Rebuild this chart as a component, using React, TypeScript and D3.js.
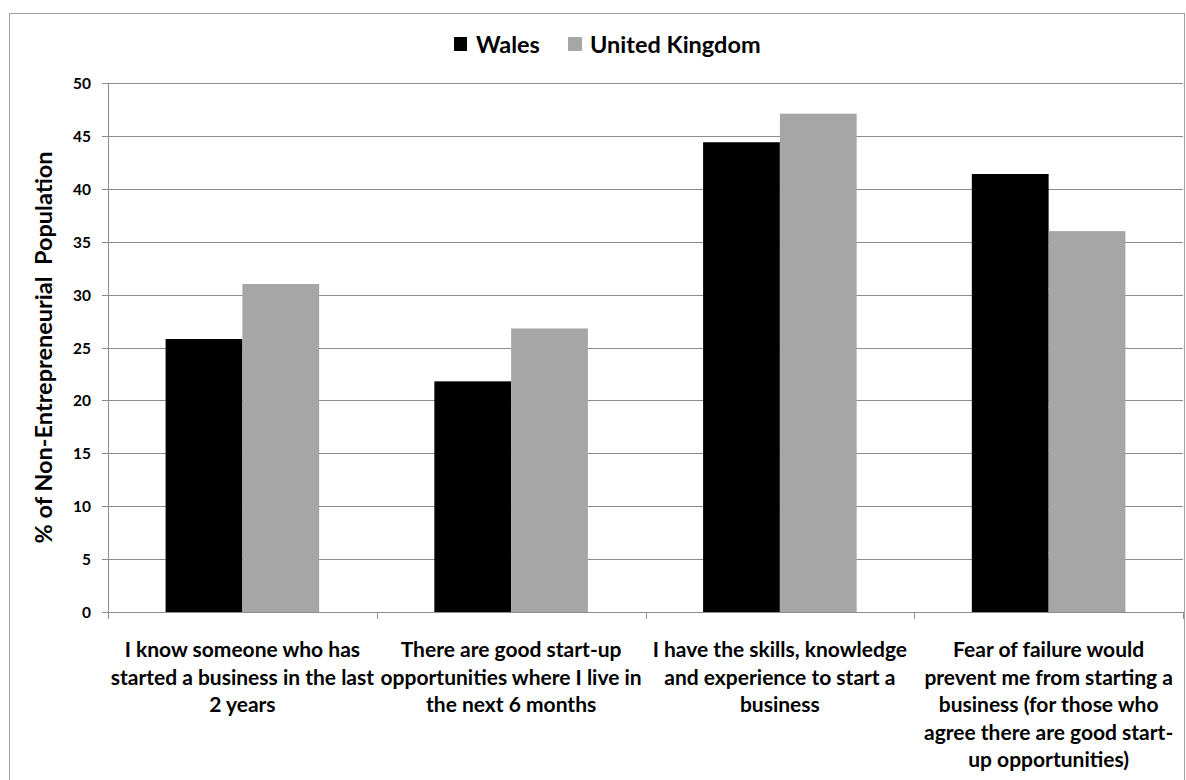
import React from 'react';
import * as d3 from 'd3';

// chart values
const categories = [
  ['I know someone who has', 'started a business in the last', '2 years'],
  ['There are good start-up', 'opportunities where I live in', 'the next 6 months'],
  ['I have the skills, knowledge', 'and experience to start a', 'business'],
  ['Fear of failure would', 'prevent me from starting a', 'business (for those who', 'agree there are good start-', 'up opportunities)'],
];
const seriesNames = ['Wales', 'United Kingdom'];
const walesValues = [25.8, 21.8, 44.4, 41.4];
const ukValues = [31.0, 26.8, 47.1, 36.0];
const yTicks = [0, 5, 10, 15, 20, 25, 30, 35, 40, 45, 50];
const seriesColors = ['#000000', '#a6a6a6'];

const FONT = 'Lato, "Open Sans", sans-serif';

const App = () => {
  const width = 1186;
  const height = 780;
  const left = 108;
  const right = 1183;
  const top = 83;
  const bottom = 612;

  const catIdx = categories.map((_, i) => String(i));
  const x0 = d3.scaleBand().domain(catIdx).range([left, right]).paddingInner(0).paddingOuter(0);
  const x1 = d3.scaleBand().domain(seriesNames).range([0, x0.bandwidth()]).paddingInner(0).paddingOuter(0.75);
  const y = d3.scaleLinear().domain([0, 50]).range([bottom, top]);

  const values = [walesValues, ukValues];
  const boundaries = catIdx.map((c) => x0(c)!).concat([right]);

  return (
    <div>
      <style>{`body{margin:0}`}</style>
      <svg width={width} height={height} style={{ display: 'block', background: '#fff' }}>
        <rect x={9.5} y={13.5} width={1175} height={800} fill="#fff" stroke="#a0a0a0" strokeWidth={1} />

        {/* gridlines + y ticks */}
        {yTicks.map((t) => (
          <g key={t}>
            <line x1={left - 6} x2={right} y1={Math.round(y(t)) + 0.5} y2={Math.round(y(t)) + 0.5} stroke="#8c8c8c" />
            <text x={91} y={y(t)} textAnchor="end" dominantBaseline="central" fontFamily={FONT} fontWeight="bold" fontSize={15.5} fill="#000">
              {t}
            </text>
          </g>
        ))}

        {/* bars */}
        {values.map((vals, si) =>
          vals.map((v, ci) => (
            <rect
              key={`${si}-${ci}`}
              x={x0(String(ci))! + x1(seriesNames[si])!}
              y={y(v)}
              width={x1.bandwidth()}
              height={y(0) - y(v)}
              fill={seriesColors[si]}
            />
          ))
        )}

        {/* axes */}
        <line x1={left + 0.5} x2={left + 0.5} y1={top} y2={bottom} stroke="#8c8c8c" />
        <line x1={left} x2={right} y1={bottom + 0.5} y2={bottom + 0.5} stroke="#8c8c8c" />
        {boundaries.map((b, i) => (
          <line key={i} x1={Math.round(b) + 0.5} x2={Math.round(b) + 0.5} y1={bottom} y2={bottom + 7} stroke="#8c8c8c" />
        ))}

        {/* category labels */}
        {categories.map((lines, ci) => (
          <text key={ci} textAnchor="middle" fontFamily={FONT} fontWeight="bold" fontSize={21} fill="#000">
            {lines.map((ln, li) => (
              <tspan key={li} x={x0(String(ci))! + x0.bandwidth() / 2} y={657 + li * 27.5}>
                {ln}
              </tspan>
            ))}
          </text>
        ))}

        {/* y title */}
        <text
          transform={`translate(52,${(top + bottom) / 2}) rotate(-90)`}
          textAnchor="middle"
          fontFamily={FONT}
          fontWeight="bold"
          fontSize={23.5}
          fill="#000"
          style={{ whiteSpace: 'pre' }}
        >
          {'% of Non-Entrepreneurial  Population'}
        </text>

        {/* legend */}
        <rect x={454} y={37} width={13} height={14} fill={seriesColors[0]} />
        <text x={476} y={44} dominantBaseline="central" fontFamily={FONT} fontWeight="bold" fontSize={23.5} fill="#000">
          {seriesNames[0]}
        </text>
        <rect x={568} y={37} width={14} height={14} fill={seriesColors[1]} />
        <text x={590} y={44} dominantBaseline="central" fontFamily={FONT} fontWeight="bold" fontSize={23.5} fill="#000">
          {seriesNames[1]}
        </text>
      </svg>
    </div>
  );
};

export default App;
